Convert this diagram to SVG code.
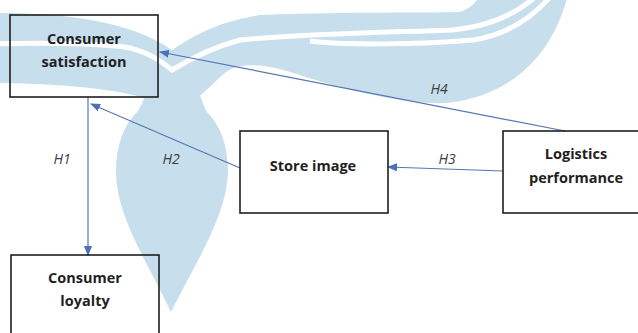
<svg xmlns="http://www.w3.org/2000/svg" width="638" height="333" viewBox="0 0 638 333">
  <defs>
    <style>
      .box { fill: none; stroke: #1e1e1e; stroke-width: 1.6; }
      .lbl { font-family: "Open Sans", "Liberation Sans", sans-serif; font-weight: 700; font-size: 14.5px; fill: #1f1f1f; text-anchor: middle; }
      .hyp { font-family: "Open Sans", "Liberation Sans", sans-serif; font-style: italic; font-size: 14px; fill: #3c3c3c; text-anchor: middle; }
      .edge { fill: none; stroke: #5577b5; stroke-width: 1.2; marker-end: url(#head); }
      .mark { fill: #c7deed; }
      .gap { fill: none; stroke: #ffffff; stroke-width: 5; }
    </style>
    <marker id="head" markerUnits="userSpaceOnUse" markerWidth="10" markerHeight="8" refX="9" refY="4" orient="auto">
      <path d="M0,0 L10,4 L0,8 Z" fill="#4a70bd"/>
    </marker>
  </defs>

  <rect width="638" height="333" fill="#ffffff"/>

  <!-- background emblem: two wings over a hanging teardrop -->
  <g id="emblem">
    <!-- teardrop body with narrow neck -->
    <path class="mark" d="M150,80 L195,80 C200,95 203,105 207,112 C220,125 228,145 228,172 C227,215 196,262 171,312 C147,262 116,215 116,172 C116,145 124,125 137,112 C142,105 146,95 150,80 Z"/>
    <!-- left wing -->
    <path class="mark" d="M-2,13 C60,13 130,20 172,50 L178,75 C170,85 160,95 150,100 C130,92 80,84 -2,83 Z"/>
    <!-- right wing -->
    <path class="mark" d="M172,50 C190,38 215,22 260,15 C330,12 420,13 460,12 C470,8 475,4 478,-2 L567,-2 C555,45 520,95 447,103 C400,105 340,88 290,72 C265,64 240,62 226,72 C214,82 205,92 195,100 L168,80 Z"/>
    <!-- white separating stripes -->
    <path class="gap" d="M-5,44 C50,42 110,44 130,48 C150,53 162,62 172,70 C185,62 210,48 240,40 C300,34 400,32 453,30 C490,26 515,15 535,-3"/>
    <path class="gap" d="M310,41 C340,45 420,45 473,40 C505,35 530,20 550,-3"/>
  </g>

  <!-- connectors -->
  <g id="connectors">
    <path class="edge" d="M88,97 L88,255"/>
    <path class="edge" d="M240,168 L91,104"/>
    <path class="edge" d="M503,171 L388,167"/>
    <path class="edge" d="M565,131 L160,52"/>
    <text class="hyp" x="62" y="164">H1</text>
    <text class="hyp" x="171" y="164">H2</text>
    <text class="hyp" x="447" y="164">H3</text>
    <text class="hyp" x="439" y="94">H4</text>
  </g>

  <g id="consumer-satisfaction">
    <rect class="box" x="10" y="15" width="148" height="82"/>
    <text class="lbl" x="84" y="44">Consumer</text>
    <text class="lbl" x="84" y="67">satisfaction</text>
  </g>

  <g id="consumer-loyalty">
    <rect class="box" x="11" y="255" width="148" height="90"/>
    <text class="lbl" x="85" y="283">Consumer</text>
    <text class="lbl" x="85" y="306">loyalty</text>
  </g>

  <g id="store-image">
    <rect class="box" x="240" y="131" width="148" height="82"/>
    <text class="lbl" x="313" y="171">Store image</text>
  </g>

  <g id="logistics-performance">
    <rect class="box" x="503" y="131" width="145" height="82"/>
    <text class="lbl" x="576" y="159">Logistics</text>
    <text class="lbl" x="576" y="183">performance</text>
  </g>
</svg>
